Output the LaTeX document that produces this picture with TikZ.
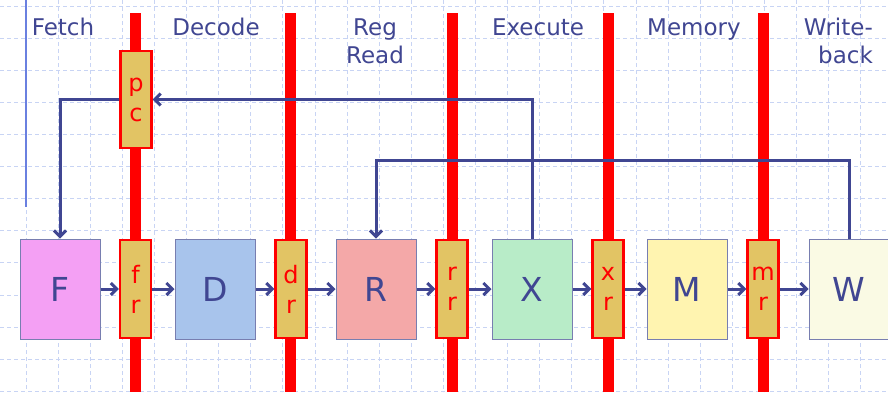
\documentclass[tikz,border=0pt]{standalone}
\usepackage{fontspec}
\setmainfont{DejaVu Sans}
\usetikzlibrary{arrows.meta}
\definecolor{ink}{RGB}{64,70,146}
\definecolor{boxedge}{RGB}{120,126,176}
\definecolor{latch}{RGB}{226,196,100}
\definecolor{gridblue}{RGB}{200,212,244}
\definecolor{marginblue}{RGB}{106,128,224}
\definecolor{fillF}{RGB}{244,160,244}
\definecolor{fillD}{RGB}{168,196,236}
\definecolor{fillR}{RGB}{244,168,168}
\definecolor{fillX}{RGB}{184,236,200}
\definecolor{fillM}{RGB}{255,244,176}
\definecolor{fillW}{RGB}{250,250,228}

\begin{document}
\begin{tikzpicture}[x=1pt,y=-1pt,
        stagebox/.style={draw=boxedge, line width=1pt, minimum width=80pt, minimum height=100pt,
            inner sep=0pt, text=ink, font=\fontsize{33}{33}\selectfont},
        regbox/.style={draw=red, line width=2.2pt, fill=latch, minimum width=31pt, minimum height=98pt,
            inner sep=0pt, text=red, align=center, font=\fontsize{24}{30}\selectfont},
        stagelabel/.style={text=ink, inner sep=0pt, font=\fontsize{23}{28}\selectfont},
        latchbar/.style={red, line width=11pt},
        flow/.style={draw=ink, line width=3pt, -{Straight Barb[length=6pt,width=12pt]}},
        gridline/.style={gridblue, line width=0.8pt, dash pattern=on 4pt off 3pt}]
        \useasboundingbox[fill=white] (0,0) rectangle (888,392);

        % Background grid
        \foreach \i in {0,...,27}
            \draw[gridline] ({26+32.1*\i},0) -- ({26+32.1*\i},392);
        \foreach \j in {0,...,12}
            \draw[gridline] (0,{6+32.1*\j}) -- (888,{6+32.1*\j});
        \draw[marginblue, line width=1.5pt] (26,0) -- (26,207);

        % Stage names
        \node[stagelabel, anchor=base] (lfetch) at (63,35) {Fetch};
        \node[stagelabel, anchor=base] (ldecode) at (216,35) {Decode};
        \node[stagelabel, anchor=base, align=center] (lread) at (375,63) {Reg\\Read};
        \node[stagelabel, anchor=base] (lexec) at (538,35) {Execute};
        \node[stagelabel, anchor=base] (lmem) at (694,35) {Memory};
        \node[stagelabel, anchor=base east, align=right] (lwb) at (873,63) {Write-\\back};

        % Pipeline latches
        \foreach \x in {135.5,290.5,452,608,763.5}
            \draw[latchbar] (\x,13) -- (\x,392);

        % Stage boxes
        \foreach \n/\x/\c in {F/60/fillF, D/215/fillD, R/376/fillR, X/532/fillX, M/687/fillM, W/849/fillW}
            \node[stagebox, fill=\c] (\n) at (\x,289) {\n};

        % Latch registers
        \node[regbox, minimum height=97pt] (pc) at (136,99.5) {p\\c};
        \foreach \n/\x/\a/\b in {fr/135.5/f/r, dr/291/d/r, rr/452/r/r, xr/608/x/r, mr/763/m/r}
            \node[regbox] (\n) at (\x,289) {\a\\\b};

        % Forward flow
        \foreach \a/\b in {F/fr, fr/D, D/dr, dr/R, R/rr, rr/X, X/xr, xr/M, M/mr, mr/W}
            \draw[flow] (\a) -- (\b);

        % Feedback paths
        \draw[flow] (X.north) |- (pc.east);
        \draw[flow] (pc.west) -| (F.north);
        \coordinate (wbturn) at (849,160);
        \draw[flow] (W.north) -- (wbturn) -| (R.north);
    \end{tikzpicture}
\end{document}
